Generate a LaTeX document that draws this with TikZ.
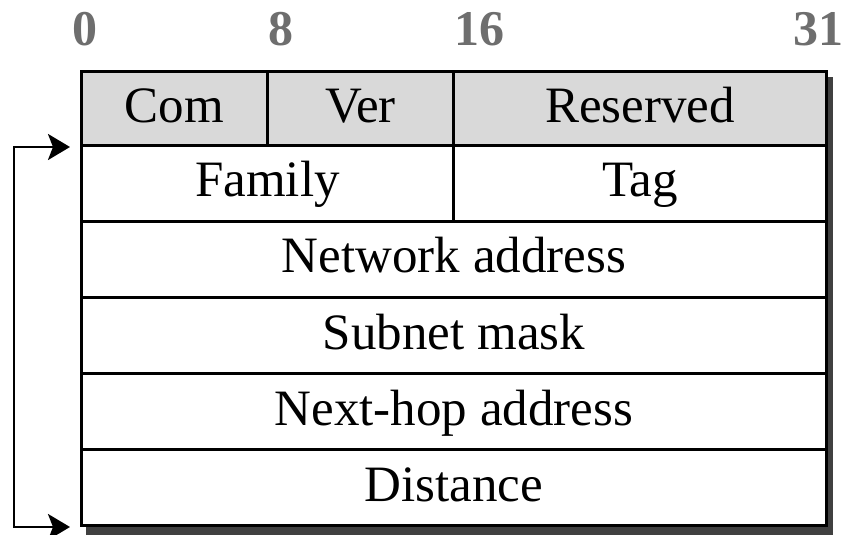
\documentclass[tikz,border=0pt]{standalone}
\usepackage{fontspec}
\setmainfont{Liberation Serif}
\usetikzlibrary{arrows.meta}
\definecolor{hdrgray}{RGB}{217,217,217}
\definecolor{shadowgray}{RGB}{64,64,64}
\definecolor{bitgray}{RGB}{110,110,110}
\begin{document}
\begin{tikzpicture}[x=1pt,y=-1pt,
  cell/.style={draw=black, line width=3pt, inner sep=0pt, anchor=north west,
    font=\fontsize{51}{60}\selectfont, text height=34pt, text depth=7pt},
  hdr/.style={cell, fill=hdrgray},
  bitlbl/.style={font=\fontsize{50}{60}\selectfont\bfseries, text=bitgray, inner sep=0pt, anchor=base},
  loop/.style={line width=2.5pt, {Stealth[length=22pt,width=26pt,inset=5pt]}-{Stealth[length=22pt,width=26pt,inset=5pt]}}
]
\useasboundingbox (0,0) rectangle (846,535);
% shadow
\fill[shadowgray] (86,77) rectangle (833,535);
% bit labels
\node[bitlbl] (b0) at (85,46) {0};
\node[bitlbl] (b8) at (281,46) {8};
\node[bitlbl] (b16) at (479,46) {16};
\node[bitlbl] (b31) at (818,46) {31};
% header row
\node[hdr, minimum width=186pt, minimum height=74pt] (com) at (80,70) {Com};
\node[hdr, minimum width=186pt, minimum height=74pt] (ver) at (266,70) {Ver};
\node[hdr, minimum width=373pt, minimum height=74pt] (res) at (452,70) {Reserved};
% body rows
\node[cell, fill=white, minimum width=372pt, minimum height=75.5pt] (family) at (80,144) {Family};
\node[cell, fill=white, minimum width=373pt, minimum height=75.5pt] (tag) at (452,144) {Tag};
\node[cell, fill=white, minimum width=745pt, minimum height=76.5pt] (net) at (80,219.5) {Network address};
\node[cell, fill=white, minimum width=745pt, minimum height=76pt] (subnet) at (80,296) {Subnet mask};
\node[cell, fill=white, minimum width=745pt, minimum height=76pt] (next) at (80,372) {Next-hop address};
\node[cell, fill=white, minimum width=745pt, minimum height=76pt] (dist) at (80,448) {Distance};
% loop arrow
\draw[loop, shorten <=10pt, shorten >=10pt] (com.south west) -- ++(-66,0) |- (dist.south west);
\end{tikzpicture}
\end{document}
